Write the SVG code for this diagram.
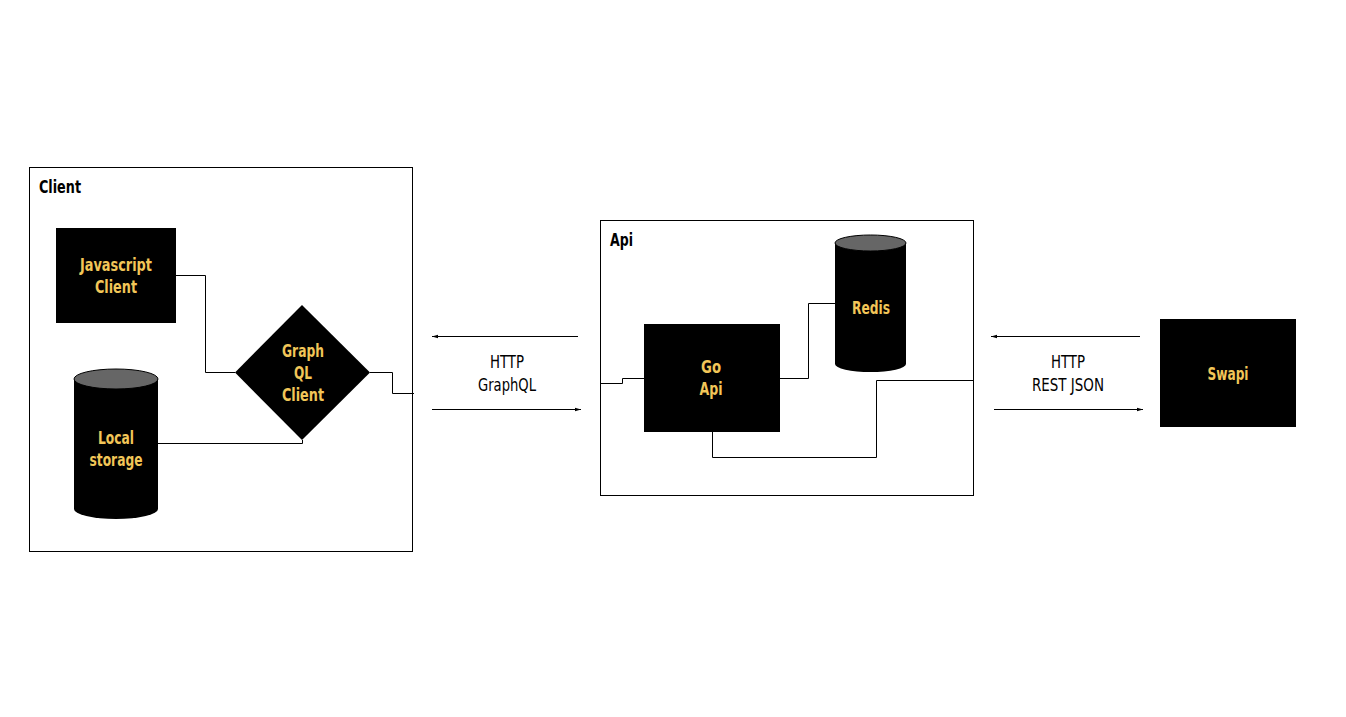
<svg xmlns="http://www.w3.org/2000/svg" width="1346" height="717" viewBox="0 0 1346 717">
<style>
.frame{fill:#fff;stroke:#000;stroke-width:1}
.box{fill:#000}
.cyl{fill:#000}
.cap{fill:#666;stroke:#000;stroke-width:1}
text{font-family:"DejaVu Sans Condensed","Liberation Sans Narrow","Liberation Sans",sans-serif;font-stretch:condensed}
.lbl{font-weight:bold;font-size:18px;fill:#f2c658;text-anchor:middle}
.title{font-weight:bold;font-size:18px;fill:#000}
.proto{font-size:18px;fill:#000;text-anchor:middle}
.wire{fill:none;stroke:#000;stroke-width:1}
</style>
<defs>
<marker id="ah" viewBox="0 0 10 10" refX="10" refY="5" markerWidth="6" markerHeight="6" orient="auto">
<path d="M0,2 L10,5 L0,8 Z" fill="#000"/>
</marker>
</defs>
<rect width="1346" height="717" fill="#fff"/>
<g id="client-group">
<rect class="frame" x="29.5" y="167.5" width="383" height="384"/>
<text class="title" x="39" y="193" textLength="42" lengthAdjust="spacingAndGlyphs">Client</text>
</g>
<g id="api-group">
<rect class="frame" x="600.5" y="220.5" width="373" height="275"/>
<text class="title" x="610" y="246" textLength="23" lengthAdjust="spacingAndGlyphs">Api</text>
</g>
<g id="connectors">
<polyline class="wire" points="176,275.5 205.5,275.5 205.5,372.5 235,372.5"/>
<polyline class="wire" points="158,443.5 302.5,443.5 302.5,440"/>
<polyline class="wire" points="370,372.5 392.5,372.5 392.5,393.5 414,393.5"/>
<polyline class="wire" points="600,383.5 622.5,383.5 622.5,378.5 644,378.5"/>
<polyline class="wire" points="780,378.5 808.5,378.5 808.5,303.5 835,303.5"/>
<polyline class="wire" points="712.5,432 712.5,457.5 876.5,457.5 876.5,380.5 973,380.5"/>
<line class="wire" x1="578" y1="336.5" x2="432" y2="336.5" marker-end="url(#ah)"/>
<line class="wire" x1="432" y1="409.5" x2="581" y2="409.5" marker-end="url(#ah)"/>
<line class="wire" x1="1140" y1="336.5" x2="991" y2="336.5" marker-end="url(#ah)"/>
<line class="wire" x1="994" y1="409.5" x2="1143" y2="409.5" marker-end="url(#ah)"/>
<text class="proto" x="507" y="368" textLength="34" lengthAdjust="spacingAndGlyphs">HTTP</text>
<text class="proto" x="507" y="391" textLength="58" lengthAdjust="spacingAndGlyphs">GraphQL</text>
<text class="proto" x="1068" y="368" textLength="34" lengthAdjust="spacingAndGlyphs">HTTP</text>
<text class="proto" x="1068" y="391" textLength="72" lengthAdjust="spacingAndGlyphs">REST JSON</text>
</g>
<g id="javascript-client">
<rect class="box" x="56" y="228" width="120" height="95"/>
<text class="lbl" x="116" y="271" textLength="72" lengthAdjust="spacingAndGlyphs">Javascript</text>
<text class="lbl" x="116" y="293" textLength="42" lengthAdjust="spacingAndGlyphs">Client</text>
</g>
<g id="graphql-client">
<polygon class="box" points="302,305 370,372.5 302,440 235,372.5"/>
<text class="lbl" x="303" y="357" textLength="42" lengthAdjust="spacingAndGlyphs">Graph</text>
<text class="lbl" x="303" y="379" textLength="18" lengthAdjust="spacingAndGlyphs">QL</text>
<text class="lbl" x="303" y="401" textLength="42" lengthAdjust="spacingAndGlyphs">Client</text>
</g>
<g id="local-storage">
<path class="cyl" d="M74,379 L74,509 A42,10 0 0 0 158,509 L158,379 Z"/>
<ellipse class="cap" cx="116" cy="379" rx="42" ry="10"/>
<text class="lbl" x="116" y="444" textLength="36" lengthAdjust="spacingAndGlyphs">Local</text>
<text class="lbl" x="116" y="466" textLength="53" lengthAdjust="spacingAndGlyphs">storage</text>
</g>
<g id="go-api">
<rect class="box" x="644" y="324" width="136" height="108"/>
<text class="lbl" x="711" y="373" textLength="20" lengthAdjust="spacingAndGlyphs">Go</text>
<text class="lbl" x="711" y="395" textLength="23" lengthAdjust="spacingAndGlyphs">Api</text>
</g>
<g id="redis">
<path class="cyl" d="M835,243 L835,364 A35.5,8 0 0 0 906,364 L906,243 Z"/>
<ellipse class="cap" cx="870.5" cy="243" rx="35.5" ry="8"/>
<text class="lbl" x="871" y="314" textLength="38" lengthAdjust="spacingAndGlyphs">Redis</text>
</g>
<g id="swapi">
<rect class="box" x="1160" y="319" width="136" height="108"/>
<text class="lbl" x="1228" y="380" textLength="41" lengthAdjust="spacingAndGlyphs">Swapi</text>
</g>
</svg>
